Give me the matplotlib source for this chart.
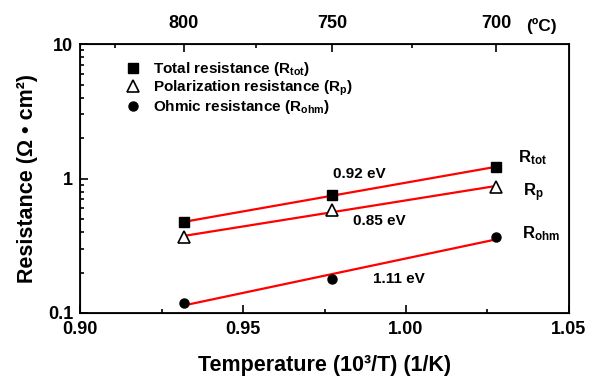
import numpy as np
import matplotlib.pyplot as plt
from matplotlib.ticker import FixedLocator, NullFormatter

plt.rcParams['font.family'] = ['Liberation Sans', 'DejaVu Sans']
plt.rcParams['font.weight'] = 'bold'
plt.rcParams['mathtext.fontset'] = 'custom'
plt.rcParams['mathtext.rm'] = 'Liberation Sans:bold'
plt.rcParams['mathtext.bf'] = 'Liberation Sans:bold'
plt.rcParams['mathtext.default'] = 'bf'

# ===== Data =====
temp_c = np.array([800, 750, 700])
inv_t = 1000.0 / (temp_c + 273.15)          # 10^3/T (1/K)
r_tot = [0.475, 0.75, 1.22]
r_p = [0.367, 0.584, 0.865]
r_ohm = [0.119, 0.179, 0.367]
ea_labels = ["0.92 eV", "0.85 eV", "1.11 eV"]
top_major = [800, 750, 700]
top_minor = [825, 775, 725]

fig = plt.figure(figsize=(5.89, 3.76), dpi=100)
ax = fig.add_axes([0.136, 0.1676, 0.830, 0.715])

ax.plot(inv_t, r_tot, 's', color='black', ms=6.5, label=r'Total resistance (R$_{tot}$)', zorder=3)
ax.plot(inv_t, r_p, '^', mfc='white', mec='black', mew=1.2, ms=8, label=r'Polarization resistance (R$_p$)', zorder=3)
ax.plot(inv_t, r_ohm, 'o', color='black', ms=6.5, label=r'Ohmic resistance (R$_{ohm}$)', zorder=3)

# ===== Arrhenius fits =====
for r in (r_tot, r_p, r_ohm):
    k, b = np.polyfit(inv_t, np.log10(r), 1)
    ax.plot(inv_t[[0, -1]], 10 ** (k * inv_t[[0, -1]] + b), color='red', lw=1.6, zorder=2)

ax.set_yscale('log')
ax.set_xlim(0.90, 1.05)
ax.set_ylim(0.1, 10)
ax.set_xticks([0.90, 0.95, 1.00, 1.05])
ax.set_xticklabels(['0.90', '0.95', '1.00', '1.05'])
ax.xaxis.set_minor_locator(FixedLocator([0.925, 0.975, 1.025]))
ax.set_yticks([0.1, 1, 10])
ax.set_yticklabels(['0.1', '1', '10'])
ax.yaxis.set_minor_formatter(NullFormatter())
ax.tick_params(which='both', direction='in', labelsize=13, width=1.2)
ax.tick_params(which='major', length=6)
ax.tick_params(which='minor', length=3)
ax.tick_params(axis='x', which='major', pad=6)
ax.tick_params(axis='y', which='major', pad=5)
ax.tick_params(axis='y', which='both', right=False)
for s in ax.spines.values():
    s.set_linewidth(1.3)

ax.set_xlabel('Temperature (10³/T) (1/K)', fontsize=15.5, fontweight='bold', labelpad=12)
ax.set_ylabel('Resistance (Ω • cm²)', fontsize=15.5, fontweight='bold', labelpad=7)

# ===== Top axis in degC =====
top = ax.twiny()
top.set_xlim(ax.get_xlim())
top.set_xticks(1000.0 / (np.array(top_major) + 273.15))
top.set_xticklabels([str(t) for t in top_major])
top.xaxis.set_minor_locator(FixedLocator(1000.0 / (np.array(top_minor) + 273.15)))
top.tick_params(which='both', direction='in', labelsize=13, width=1.2)
top.tick_params(which='major', length=6, pad=9)
top.tick_params(which='minor', length=3)
ax.text(1.0417, 13.6, '(ºC)', fontsize=12.5, fontweight='bold', va='center', ha='center')

# ===== Labels =====
ax.text(0.9776, 1.01, ea_labels[0], fontsize=11)
ax.text(0.9837, 0.451, ea_labels[1], fontsize=11)
ax.text(0.9899, 0.167, ea_labels[2], fontsize=11)
ax.text(1.0344, 1.327, r'R$_{tot}$', fontsize=12)
ax.text(1.0359, 0.741, r'R$_p$', fontsize=12)
ax.text(1.0356, 0.361, r'R$_{ohm}$', fontsize=12)

ax.legend(loc='upper left', bbox_to_anchor=(0.09, 0.94), frameon=False, fontsize=11,
          handletextpad=0.7, labelspacing=0.02, borderpad=0, borderaxespad=0, handlelength=1.2)

fig.savefig('out.png', dpi=100)
